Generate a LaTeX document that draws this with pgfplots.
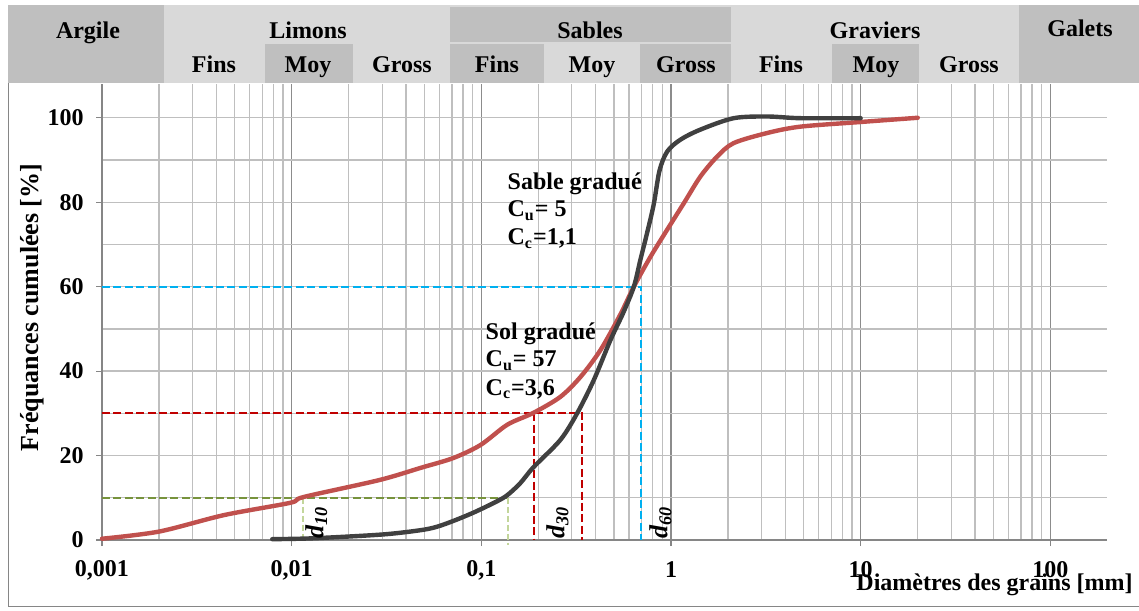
\documentclass[border=0pt]{standalone}
\usepackage{fontspec}
\setmainfont{Liberation Serif}
\usepackage{pgfplots}
\pgfplotsset{compat=1.18}

\definecolor{hdark}{HTML}{BFBFBF}
\definecolor{hlight}{HTML}{D9D9D9}
\definecolor{gridc}{HTML}{BFBFBF}
\definecolor{gridmaj}{HTML}{8C8C8C}
\definecolor{axisc}{HTML}{868686}
\definecolor{solred}{HTML}{C0504D}
\definecolor{sabgray}{HTML}{404040}
\definecolor{dtenh}{HTML}{77933C}
\definecolor{dtenv}{HTML}{C3D69B}
\definecolor{dthirty}{HTML}{C00000}
\definecolor{dsixty}{HTML}{00B0F0}

\newcommand\lbl{\fontsize{12}{14}\selectfont\bfseries}

\begin{document}
\begin{tikzpicture}
% 1 px of the reference = 0.5pt, axis corner at px (102,540)
\path[use as bounding box] (-51pt,-35pt) rectangle (518.5pt,270pt);
\begin{axis}[
  at={(0,0)}, anchor=south west,
  scale only axis, width=502.5pt, height=228pt,
  xmode=log, xmin=0.001, xmax=199, ymin=0, ymax=108,
  axis x line*=bottom, axis y line*=left,
  axis line style={-, draw=axisc, line width=0.75pt},
  xtick={0.001,0.01,0.1,1,10,100},
  xticklabels={{0,001},{0,01},{0,1},1,10,100},
  minor xtick={0.002,0.003,0.004,0.005,0.006,0.007,0.008,0.009,
               0.02,0.03,0.04,0.05,0.06,0.07,0.08,0.09,
               0.2,0.3,0.4,0.5,0.6,0.7,0.8,0.9,
               2,3,4,5,6,7,8,9,20,30,40,50,60,70,80,90},
  ytick={0,20,40,60,80,100}, minor ytick={10,30,50,70,90},
  xmajorgrids, xminorgrids, ymajorgrids, yminorgrids,
  grid style={draw=gridc, line width=0.65pt},
  major grid style={draw=gridc, line width=0.65pt},
  minor grid style={draw=gridc, line width=0.65pt},
  major x grid style={draw=gridmaj, line width=0.65pt},
  tick align=outside, major tick length=3pt, minor tick length=0pt,
  tick style={draw=axisc, line width=0.6pt},
  /pgf/number format/assume math mode=true,
  ticklabel style={font=\lbl},
  xticklabel style={anchor=center, inner sep=0pt, yshift=-12pt},
  yticklabel style={anchor=east, inner sep=0pt, xshift=-6pt},
  xlabel={Diamètres des grains [mm]},
  ylabel={Fréquances cumulées [\%]},
  every axis x label/.style={at={(axis description cs:1,0)}, anchor=base east,
    xshift=13pt, yshift=-25pt, font=\lbl, inner sep=0pt},
  every axis y label/.style={at={(axis description cs:0,0.51)}, xshift=-35pt,
    rotate=90, anchor=center, font=\fontsize{13}{15}\selectfont\bfseries},
  clip=false,
]
% d60, d30, d10 construction lines
\addplot[dsixty, line width=1pt, dash pattern=on 4pt off 1.7pt]
  coordinates {(0.001,60) (0.695,60) (0.695,0)};
\addplot[dthirty, line width=1pt, dash pattern=on 4pt off 1.7pt]
  coordinates {(0.001,30) (0.341,30) (0.341,0)};
\addplot[dthirty, line width=1pt, dash pattern=on 4pt off 1.7pt]
  coordinates {(0.19,30) (0.19,0)};
\addplot[dtenh, line width=1pt, dash pattern=on 4pt off 1.7pt]
  coordinates {(0.001,10) (0.136,10)};
\addplot[dtenv, line width=0.8pt, dash pattern=on 3pt off 1.5pt]
  coordinates {(0.0115,10) (0.0115,0)};
\addplot[dtenv, line width=0.8pt, dash pattern=on 3pt off 1.5pt]
  coordinates {(0.138,10) (0.138,-1.2)};

% sol gradué
\addplot[solred, line width=2.2pt, smooth, line join=round, line cap=round]
  coordinates {
  (0.001,0.3) (0.002,2.0) (0.0044,5.9) (0.0098,8.8) (0.0116,10.2)
  (0.029,14.2) (0.048,17.1) (0.071,19.4) (0.099,22.5) (0.137,27.3)
  (0.188,30.1) (0.261,33.9) (0.333,38.6) (0.425,45) (0.542,53.5)
  (0.637,60) (0.78,67.1) (0.955,73.5) (1.17,79.8) (1.43,86.1)
  (1.75,90.8) (2.14,94) (3.22,96.4) (4.82,97.9) (10,99) (20,100)
  };
% sable gradué
\addplot[sabgray, line width=2.2pt, smooth, line join=round, line cap=round]
  coordinates {
  (0.0079,0.2) (0.0129,0.4) (0.03,1.3) (0.0474,2.3) (0.058,3.1)
  (0.072,4.6) (0.09,6.4) (0.113,8.5) (0.135,10.4) (0.16,13.4)
  (0.188,17.2) (0.261,23.7) (0.32,30) (0.392,37.9) (0.48,47.4)
  (0.56,53.8) (0.637,60) (0.69,66.4) (0.748,72.7) (0.811,79.5)
  (0.87,87.5) (0.955,92) (1.12,94.8) (1.43,97.2) (2.14,99.9)
  (3.22,100.3) (4.82,99.9) (10,99.9)
  };

\node[anchor=base west, font=\lbl, inner sep=0pt] at (axis cs:0.137,82.9) {Sable gradué};
\node[anchor=base west, font=\lbl, inner sep=0pt] at (axis cs:0.137,76.6) {C\textsubscript{u}= 5};
\node[anchor=base west, font=\lbl, inner sep=0pt] at (axis cs:0.137,69.9) {C\textsubscript{c}=1,1};
\node[anchor=base west, font=\lbl, inner sep=0pt] at (axis cs:0.105,47.4) {Sol gradué};
\node[anchor=base west, font=\lbl, inner sep=0pt] at (axis cs:0.105,41.0) {C\textsubscript{u}= 57};
\node[anchor=base west, font=\lbl, inner sep=0pt] at (axis cs:0.105,34.3) {C\textsubscript{c}=3,6};

\node[rotate=90, anchor=west, inner sep=0pt, font=\fontsize{13}{15}\selectfont\bfseries\itshape]
  at (axis cs:0.0135,0.3) {d\textsubscript{10}};
\node[rotate=90, anchor=west, inner sep=0pt, font=\fontsize{13}{15}\selectfont\bfseries\itshape]
  at (axis cs:0.252,0.3) {d\textsubscript{30}};
\node[rotate=90, anchor=west, inner sep=0pt, font=\fontsize{13}{15}\selectfont\bfseries\itshape]
  at (axis cs:0.88,0.3) {d\textsubscript{60}};
\end{axis}

% soil classes band and frame, in reference pixels
\begin{scope}[shift={(-51pt,270pt)}, x=0.5pt, y=-0.5pt]
  \draw[axisc, line width=0.5pt] (9,83) -- (9,606.5) -- (1139,606.5);
  \fill[hlight] (8,5) rectangle (1139,83);
  \fill[hdark] (8,5) rectangle (164,83);
  \fill[hdark] (1019,5) rectangle (1139,83);
  \fill[hdark] (450,7) rectangle (731,42);
  \fill[hdark] (265,44) rectangle (353,83);
  \fill[hdark] (450,44) rectangle (544,83);
  \fill[hdark] (640,44) rectangle (731,83);
  \fill[hdark] (832,44) rectangle (919,83);
  \begin{scope}[every node/.style={font=\lbl, anchor=base, inner sep=0pt}]
    \node at (88,39) {Argile};
    \node at (308,39) {Limons};
    \node at (590,39) {Sables};
    \node at (875,39) {Graviers};
    \node at (1080,37) {Galets};
    \node at (214,73) {Fins};
    \node at (308,73) {Moy};
    \node at (402,73) {Gross};
    \node at (497,73) {Fins};
    \node at (592,73) {Moy};
    \node at (686,73) {Gross};
    \node at (781,73) {Fins};
    \node at (876,73) {Moy};
    \node at (969,73) {Gross};
  \end{scope}
\end{scope}
\end{tikzpicture}
\end{document}
